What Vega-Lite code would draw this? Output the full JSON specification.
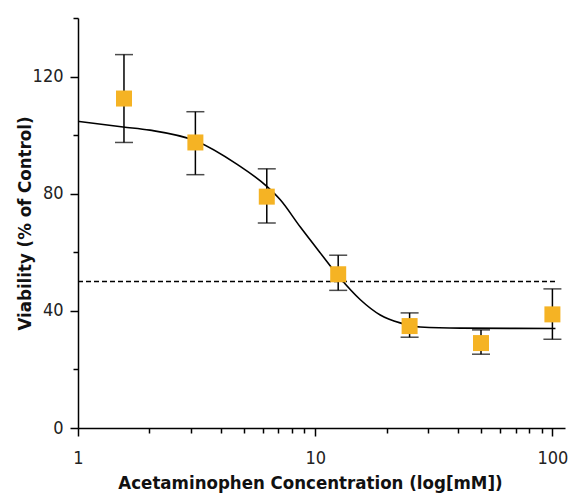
{
  "$schema": "https://vega.github.io/schema/vega-lite/v6.json",
  "width": 487,
  "height": 410,
  "autosize": "none",
  "padding": {"left": 78, "top": 18, "right": 15, "bottom": 68},
  "background": "white",
  "config": {
    "view": {"stroke": null},
    "font": "Roboto",
    "axis": {
      "domainColor": "black",
      "domainWidth": 1.5,
      "tickColor": "black",
      "tickWidth": 1.5,
      "grid": false,
      "labelFont": "'Liberation Sans Narrow', 'DejaVu Sans Condensed', Roboto, sans-serif",
      "labelFontSize": 18,
      "labelFontWeight": 300,
      "labelColor": "#222",
      "titleFont": "'Liberation Sans Narrow', 'DejaVu Sans Condensed', Roboto, sans-serif",
      "titleFontWeight": "bold",
      "titleFontSize": 18.5,
      "titleColor": "#111"
    }
  },
  "datasets": {
    "points": [
      {"conc": 1.5625, "viability": 112.5, "lo": 97.5, "hi": 127.5},
      {"conc": 3.125, "viability": 97.5, "lo": 86.5, "hi": 108},
      {"conc": 6.25, "viability": 79, "lo": 70, "hi": 88.5},
      {"conc": 12.5, "viability": 52.5, "lo": 47, "hi": 59},
      {"conc": 25, "viability": 34.8, "lo": 31, "hi": 39.3},
      {"conc": 50, "viability": 29, "lo": 25.2, "hi": 33.5},
      {"conc": 100, "viability": 38.8, "lo": 30.3, "hi": 47.5}
    ],
    "fit": [
      {"conc": 1, "viability": 104.7},
      {"conc": 1.55, "viability": 102.8},
      {"conc": 2.01, "viability": 101.7},
      {"conc": 3.14, "viability": 98},
      {"conc": 4.69, "viability": 90},
      {"conc": 6.27, "viability": 82.4},
      {"conc": 7.11, "viability": 78},
      {"conc": 8.64, "viability": 68.7},
      {"conc": 10.5, "viability": 59.8},
      {"conc": 12.7, "viability": 51.3},
      {"conc": 15.5, "viability": 43.8},
      {"conc": 18.8, "viability": 38.6},
      {"conc": 22.8, "viability": 35.9},
      {"conc": 27.7, "viability": 34.5},
      {"conc": 40.9, "viability": 34.1},
      {"conc": 103, "viability": 34.0}
    ],
    "threshold": [
      {"conc": 1, "conc_end": 104, "viability": 50}
    ]
  },
  "encoding": {
    "x": {
      "field": "conc",
      "type": "quantitative",
      "scale": {"type": "log", "domain": [1, 113], "nice": false},
      "axis": {
        "title": "Acetaminophen Concentration (log[mM])",
        "values": [1, 2, 3, 4, 5, 6, 7, 8, 9, 10, 20, 30, 40, 50, 60, 70, 80, 90, 100],
        "labelExpr": "indexof([1, 10, 100], datum.value) >= 0 ? datum.value : ''",
        "tickSize": {"expr": "indexof([1, 10, 100], datum.value) >= 0 ? 8 : 5"},
        "labelPadding": 13,
        "labelFlush": false,
        "titlePadding": 6,
        "titleX": 232,
        "titleAnchor": "middle"
      }
    },
    "y": {
      "field": "viability",
      "type": "quantitative",
      "scale": {"domain": [0, 140], "nice": false},
      "axis": {
        "title": "Viability (% of Control)",
        "values": [0, 20, 40, 60, 80, 100, 120, 140],
        "labelExpr": "datum.value % 40 === 0 && datum.value < 140 ? datum.value : ''",
        "tickSize": {"expr": "datum.value % 40 === 0 && datum.value < 140 ? 8 : 5"},
        "labelPadding": 7,
        "titleX": -44,
        "titleAnchor": "middle"
      }
    }
  },
  "layer": [
    {
      "data": {"name": "threshold"},
      "mark": {"type": "rule", "color": "black", "strokeWidth": 1.5, "strokeDash": [5, 3]},
      "encoding": {"x2": {"field": "conc_end"}}
    },
    {
      "data": {"name": "fit"},
      "mark": {"type": "line", "color": "black", "strokeWidth": 1.6, "interpolate": "monotone"},
      "encoding": {}
    },
    {
      "data": {"name": "points"},
      "mark": {"type": "rule", "color": "black", "strokeWidth": 1.5},
      "encoding": {"y": {"field": "lo", "type": "quantitative"}, "y2": {"field": "hi"}}
    },
    {
      "data": {"name": "points"},
      "mark": {"type": "tick", "color": "black", "orient": "horizontal", "size": 18, "thickness": 1.5},
      "encoding": {"y": {"field": "lo", "type": "quantitative"}}
    },
    {
      "data": {"name": "points"},
      "mark": {"type": "tick", "color": "black", "orient": "horizontal", "size": 18, "thickness": 1.5},
      "encoding": {"y": {"field": "hi", "type": "quantitative"}}
    },
    {
      "data": {"name": "points"},
      "mark": {"type": "square", "color": "#F5B324", "opacity": 1, "size": 256}
    }
  ]
}
